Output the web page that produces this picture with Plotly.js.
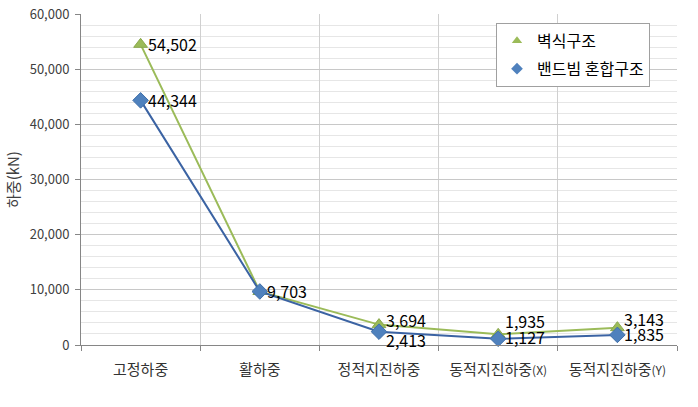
<!DOCTYPE html>
<html><head><meta charset="utf-8">
<script src="https://cdn.plot.ly/plotly-3.0.1.min.js"></script>
<style>html,body{margin:0;padding:0;background:#fff}#c{width:698px;height:407px}</style>
</head><body><div id="c"></div>
<script>
const categories = ["고정하중", "활하중", "정적지진하중", "동적지진하중<span style='font-size:12px'>(X)</span>", "동적지진하중<span style='font-size:12px'>(Y)</span>"];
const seriesNames = ["벽식구조", "밴드빔 혼합구조"];
const wallValues = [54502, 9703, 3694, 1935, 3143];
const bandValues = [44344, 9703, 2413, 1127, 1835];
const wallLabels = ["54,502", "", "3,694", "1,935", "3,143"];
const bandLabels = ["44,344", "9,703", "2,413", "1,127", "1,835"];
// vertical pixel offsets of the value labels (style only)
const wallLabelShift = [0, 0, 5, 13, 9];
const bandLabelShift = [0, 0, -8, 2, 1];

const font = "'Noto Sans CJK KR', 'Open Sans', sans-serif";
const green = "#9BBB59", blue = "#4F81BD", blueLine = "#3B63A3";

const traces = [
  {x: categories, y: wallValues, type: "scatter", mode: "lines+markers", showlegend: false,
   line: {color: green, width: 2}, marker: {symbol: "triangle-up", size: 12, color: green, line: {color: "#8AA84C", width: 1}}, cliponaxis: false},
  {x: categories, y: bandValues, type: "scatter", mode: "lines+markers", showlegend: false,
   line: {color: blueLine, width: 2}, marker: {symbol: "diamond", size: 12, color: blue, line: {color: "#3F6FAA", width: 1}}, cliponaxis: false},
  {x: [categories[0]], y: [null], type: "scatter", mode: "markers", name: seriesNames[0], legendgroup: "a",
   marker: {symbol: "triangle-up", size: 9, color: green}},
  {x: [categories[0]], y: [null], type: "scatter", mode: "markers", name: seriesNames[1], legendgroup: "b",
   marker: {symbol: "diamond", size: 9, color: blue}}
];

const annotations = [];
function addLabels(vals, labels, shifts) {
  vals.forEach((v, i) => {
    if (!labels[i]) return;
    annotations.push({x: categories[i], y: v, xref: "x", yref: "y", text: labels[i], showarrow: false,
      xanchor: "left", yanchor: "middle", xshift: 6, yshift: shifts[i], borderpad: 0,
      font: {family: font, size: 16, color: "#000"}});
  });
}
addLabels(wallValues, wallLabels, wallLabelShift);
addLabels(bandValues, bandLabels, bandLabelShift);

const layout = {
  width: 698, height: 407,
  margin: {l: 81, r: 21, t: 14, b: 62},
  paper_bgcolor: "#fff", plot_bgcolor: "#fff",
  font: {family: font, color: "#404040"},
  annotations: annotations,
  xaxis: {type: "category", tickson: "boundaries", showgrid: true, gridcolor: "#D0D0D0", gridwidth: 1,
    ticks: "outside", ticklen: 5, tickcolor: "#868686", showline: true, linecolor: "#868686",
    ticklabelstandoff: 11,
    tickfont: {family: font, size: 15, color: "#333"}, range: [-0.5, 4.5], fixedrange: true},
  yaxis: {range: [0, 60000], dtick: 10000, tickformat: ",", showgrid: true, gridcolor: "#C8C8C8",
    minor: {dtick: 2000, showgrid: true, gridcolor: "#E6E6E6", ticks: ""},
    ticks: "outside", ticklen: 5, tickcolor: "#868686", showline: true, linecolor: "#868686", zeroline: false,
    ticklabelstandoff: 3,
    tickfont: {family: font, size: 13, color: "#404040"},
    title: {text: "하중(kN)", font: {family: font, size: 15, color: "#404040"}, standoff: 6}},
  legend: {x: (496 - 81) / 596, y: 0.973, xanchor: "left", yanchor: "top", bgcolor: "#fff", bordercolor: "#A0A0A0", borderwidth: 1,
    font: {family: font, size: 16, color: "#000"}, tracegroupgap: 4},
  showlegend: true
};
Plotly.newPlot("c", traces, layout, {displayModeBar: false, staticPlot: true});
</script></body></html>
